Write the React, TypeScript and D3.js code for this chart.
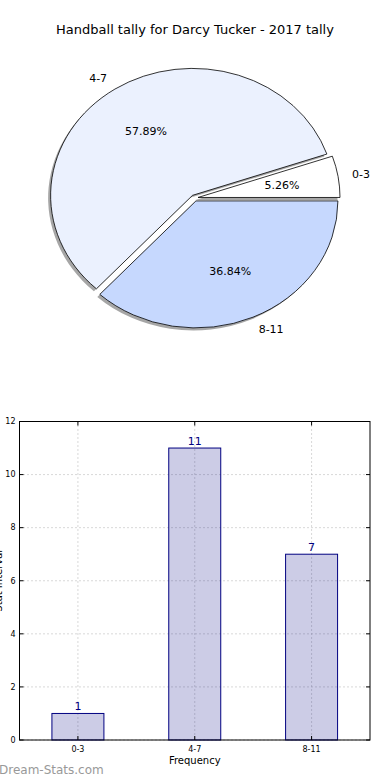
import React from 'react'
import * as d3 from 'd3'

// ── Data ─────────────────────────────────────────────────────────────────────
const CATEGORIES = ['0-3', '4-7', '8-11']
const COUNTS = [1, 11, 7]
const PIE_COLORS = ['#ffffff', '#ebf1fe', '#c6d8fe']
const Y_TICKS = [0, 2, 4, 6, 8, 10, 12]

const TITLE = 'Handball tally for Darcy Tucker - 2017 tally'
const FONT = 'DejaVu Sans, sans-serif'

// ── Pie geometry ─────────────────────────────────────────────────────────────
const PIE = { cx: 194.5, cy: 198, rx: 142, ry: 127, explode: 0.025 }

// ── Bar chart geometry ───────────────────────────────────────────────────────
const BAR = { left: 19.5, right: 370, top: 421.5, bottom: 740 }

function PieChart() {
  const total = d3.sum(COUNTS)
  // matplotlib starts at 3 o'clock and goes counter-clockwise
  const arcs = d3.pie<number>().sort(null)
    .startAngle(Math.PI / 2)
    .endAngle(Math.PI / 2 - 2 * Math.PI)(COUNTS)
  const arcGen = d3.arc<d3.PieArcDatum<number>>().innerRadius(0).outerRadius(1)

  const pos = (a: number, k: number) => [PIE.rx * k * Math.sin(a), -PIE.ry * k * Math.cos(a)]

  return (
    <g>
      {/* shadows */}
      {arcs.map((a, i) => {
        const mid = (a.startAngle + a.endAngle) / 2
        const [ox, oy] = pos(mid, PIE.explode)
        return (
          <path key={'s' + i} d={arcGen(a) ?? ''}
            transform={`translate(${PIE.cx + ox - 2.5},${PIE.cy + oy + 2.5}) scale(${PIE.rx},${PIE.ry})`}
            fill="#808080" opacity={0.7} />
        )
      })}
      {arcs.map((a, i) => {
        const mid = (a.startAngle + a.endAngle) / 2
        const [ox, oy] = pos(mid, PIE.explode)
        return (
          <path key={'p' + i} d={arcGen(a) ?? ''}
            transform={`translate(${PIE.cx + ox},${PIE.cy + oy}) scale(${PIE.rx},${PIE.ry})`}
            fill={PIE_COLORS[i]} stroke="#000" strokeWidth={0.8}
            vectorEffect="non-scaling-stroke" />
        )
      })}
      {arcs.map((a, i) => {
        const mid = (a.startAngle + a.endAngle) / 2
        const [ox, oy] = pos(mid, PIE.explode)
        const [lx, ly] = pos(mid, 1.1)
        const [px, py] = pos(mid, 0.6)
        const anchor = Math.sin(mid) < 0 ? 'end' : 'start'
        return (
          <g key={'l' + i} fontFamily={FONT} fontSize={11} fill="#000">
            <text x={PIE.cx + ox + lx} y={PIE.cy + oy + ly} dy="0.35em" textAnchor={anchor}>
              {CATEGORIES[i]}
            </text>
            <text x={PIE.cx + ox + px} y={PIE.cy + oy + py} dy="0.35em" textAnchor="middle">
              {((COUNTS[i] / total) * 100).toFixed(2)}%
            </text>
          </g>
        )
      })}
    </g>
  )
}

function BarChart() {
  const x = d3.scaleBand<string>().domain(CATEGORIES)
    .range([BAR.left, BAR.right]).paddingInner(0.555).paddingOuter(0.2775)
  const y = d3.scaleLinear().domain([0, 12]).range([BAR.bottom, BAR.top])
  const cx = (c: string) => (x(c) ?? 0) + x.bandwidth() / 2

  return (
    <g fontFamily={FONT}>
      {/* grid */}
      {Y_TICKS.map((t) => (
        <line key={'gy' + t} x1={BAR.left} x2={BAR.right} y1={y(t)} y2={y(t)}
          stroke="#b0b0b0" strokeDasharray="1,3" strokeWidth={1} />
      ))}
      {CATEGORIES.map((c) => (
        <line key={'gx' + c} x1={cx(c)} x2={cx(c)} y1={BAR.top} y2={BAR.bottom}
          stroke="#b0b0b0" strokeDasharray="1,3" strokeWidth={1} />
      ))}
      {/* bars */}
      {CATEGORIES.map((c, i) => (
        <g key={'b' + c}>
          <rect x={x(c)} width={x.bandwidth()} y={y(COUNTS[i])} height={y(0) - y(COUNTS[i])}
            fill="#000080" fillOpacity={0.2} stroke="#000080" strokeWidth={1} />
          <text x={cx(c)} y={y(COUNTS[i]) - 3} textAnchor="middle" fontSize={11} fill="#000080">
            {COUNTS[i]}
          </text>
        </g>
      ))}
      {/* frame */}
      <rect x={BAR.left} y={BAR.top} width={BAR.right - BAR.left} height={BAR.bottom - BAR.top}
        fill="none" stroke="#000" strokeWidth={1} />
      {/* ticks */}
      {Y_TICKS.map((t) => (
        <g key={'ty' + t}>
          <line x1={BAR.left} x2={BAR.left + 4} y1={y(t)} y2={y(t)} stroke="#000" />
          <line x1={BAR.right - 4} x2={BAR.right} y1={y(t)} y2={y(t)} stroke="#000" />
          <text x={BAR.left - 4} y={y(t)} dy="0.35em" textAnchor="end" fontSize={8} fill="#000">{t}</text>
        </g>
      ))}
      {CATEGORIES.map((c) => (
        <g key={'tx' + c}>
          <line x1={cx(c)} x2={cx(c)} y1={BAR.bottom - 4} y2={BAR.bottom} stroke="#000" />
          <line x1={cx(c)} x2={cx(c)} y1={BAR.top} y2={BAR.top + 4} stroke="#000" />
          <text x={cx(c)} y={BAR.bottom + 12} textAnchor="middle" fontSize={8} fill="#000">{c}</text>
        </g>
      ))}
      <text x={(BAR.left + BAR.right) / 2} y={BAR.bottom + 24} textAnchor="middle" fontSize={10} fill="#000">
        Frequency
      </text>
      <text transform={`translate(2,${(BAR.top + BAR.bottom) / 2}) rotate(-90)`} textAnchor="middle"
        fontSize={10} fill="#000">
        Stat Interval
      </text>
      <text x={-1} y={774} fontSize={12} fill="#999">Dream-Stats.com</text>
    </g>
  )
}

export default function App() {
  return (
    <div style={{ position: 'absolute', left: 0, top: 0, width: 390, height: 780, background: '#fff' }}>
      <svg width={390} height={780} style={{ display: 'block' }}>
        <rect width={390} height={780} fill="#fff" />
        <text x={195} y={34} textAnchor="middle" fontFamily={FONT} fontSize={13} fill="#000">{TITLE}</text>
        <PieChart />
        <BarChart />
      </svg>
    </div>
  )
}
